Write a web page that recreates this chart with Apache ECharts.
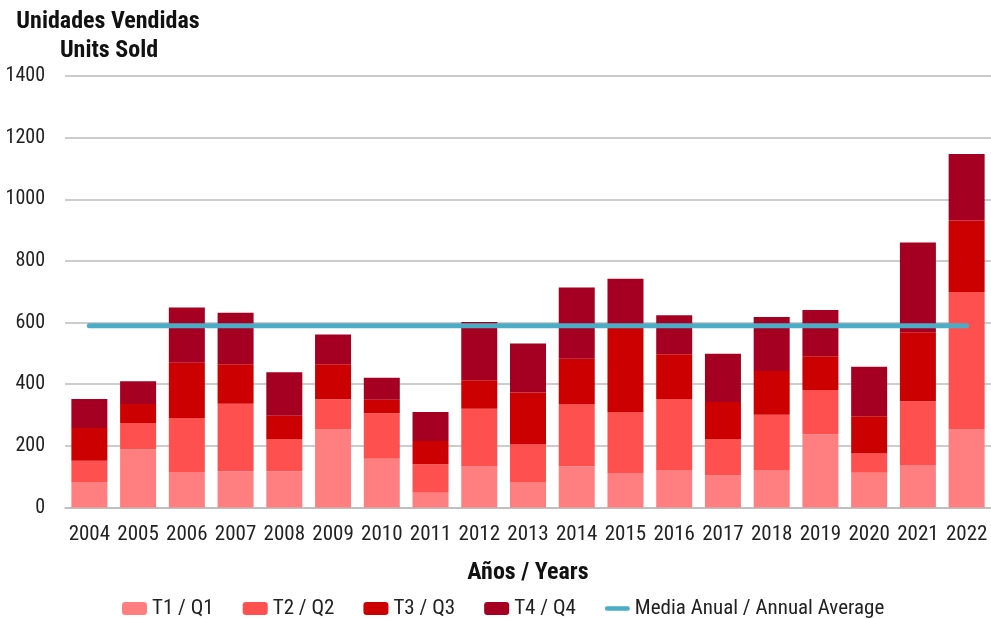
<!DOCTYPE html>
<html>
<head>
<meta charset="utf-8">
<script src="https://cdn.jsdelivr.net/npm/echarts@6/dist/echarts.min.js"></script>
<style>html,body{margin:0;padding:0;background:#fff}#c{width:991px;height:619px}</style>
</head>
<body>
<div id="c"></div>
<script>
const years = ['2004','2005','2006','2007','2008','2009','2010','2011','2012','2013','2014','2015','2016','2017','2018','2019','2020','2021','2022'];
const q1 = [83,189,115,118,118,253,158,48,133,83,134,112,122,104,122,238,113,138,253];
const q2 = [69,85,175,219,104,98,148,92,187,121,200,196,230,118,179,143,62,207,446];
const q3 = [106,62,180,128,76,114,44,76,93,169,149,277,145,120,142,110,121,224,232];
const q4 = [94,74,179,167,141,96,71,94,189,159,231,157,127,157,175,150,161,291,216];
const annualAverage = [590,590,590,590,590,590,590,590,590,590,590,590,590,590,590,590,590,590,590];
const seriesNames = ['T1 / Q1','T2 / Q2','T3 / Q3','T4 / Q4','Media Anual / Annual Average'];
const yTicks = [0,200,400,600,800,1000,1200,1400];

const FONT = '"Roboto Condensed","Liberation Sans Narrow",Roboto,sans-serif';
const colors = ['#FF7F80','#FF5050','#CC0000','#A50021'];
const chart = echarts.init(document.getElementById('c'));
const quarters = [q1,q2,q3,q4];
const series = quarters.map((d,i)=>({
  name: seriesNames[i], type:'bar', stack:'total', data:d, barWidth:36,
  itemStyle:{color:colors[i]}
}));
series.push({
  name: seriesNames[4], type:'line', data: annualAverage, symbol:'none',
  lineStyle:{color:'#4BACC6', width:5, cap:'round'}, itemStyle:{color:'#4BACC6'}, z:5
});
const lineIcon = 'path://M2.5,0 L25.5,0 A2.5,2.5 0 0 1 25.5,5 L2.5,5 A2.5,2.5 0 0 1 2.5,0 Z';
chart.setOption({
  animation:false,
  textStyle:{fontFamily:FONT},
  title:[
    {text:'Unidades Vendidas', left:103, top:5, textAlign:'center',
     textStyle:{fontFamily:FONT, fontSize:24, fontWeight:'bold', color:'#111'}},
    {text:'Units Sold', left:104, top:34, textAlign:'center',
     textStyle:{fontFamily:FONT, fontSize:24, fontWeight:'bold', color:'#111'}}
  ],
  legend:{
    top:593, left:117, itemWidth:25, itemHeight:13, itemGap:29,
    textStyle:{fontFamily:FONT, fontSize:21, color:'#222'},
    data: seriesNames.slice(0,4).concat([{name:seriesNames[4], icon:lineIcon, itemStyle:{color:'#4BACC6'}}])
  },
  grid:{left:65, right:0, top:76, bottom:111.5},
  xAxis:{
    type:'category', data:years,
    axisLine:{show:true, lineStyle:{color:'#bbb', width:1.5}},
    axisTick:{show:false},
    axisLabel:{fontFamily:FONT, fontSize:21, color:'#222', margin:17, interval:0},
    name:'Años / Years', nameLocation:'middle', nameGap:53,
    nameTextStyle:{fontFamily:FONT, fontSize:24, fontWeight:'bold', color:'#111'}
  },
  yAxis:{
    type:'value', min:yTicks[0], max:yTicks[yTicks.length-1], interval:200,
    axisLine:{show:false}, axisTick:{show:false},
    splitLine:{lineStyle:{color:'#bbb', width:1.5}},
    axisLabel:{fontFamily:FONT, fontSize:20, color:'#222', margin:20, formatter:v=>String(v)}
  },
  series
});
</script>
</body>
</html>
